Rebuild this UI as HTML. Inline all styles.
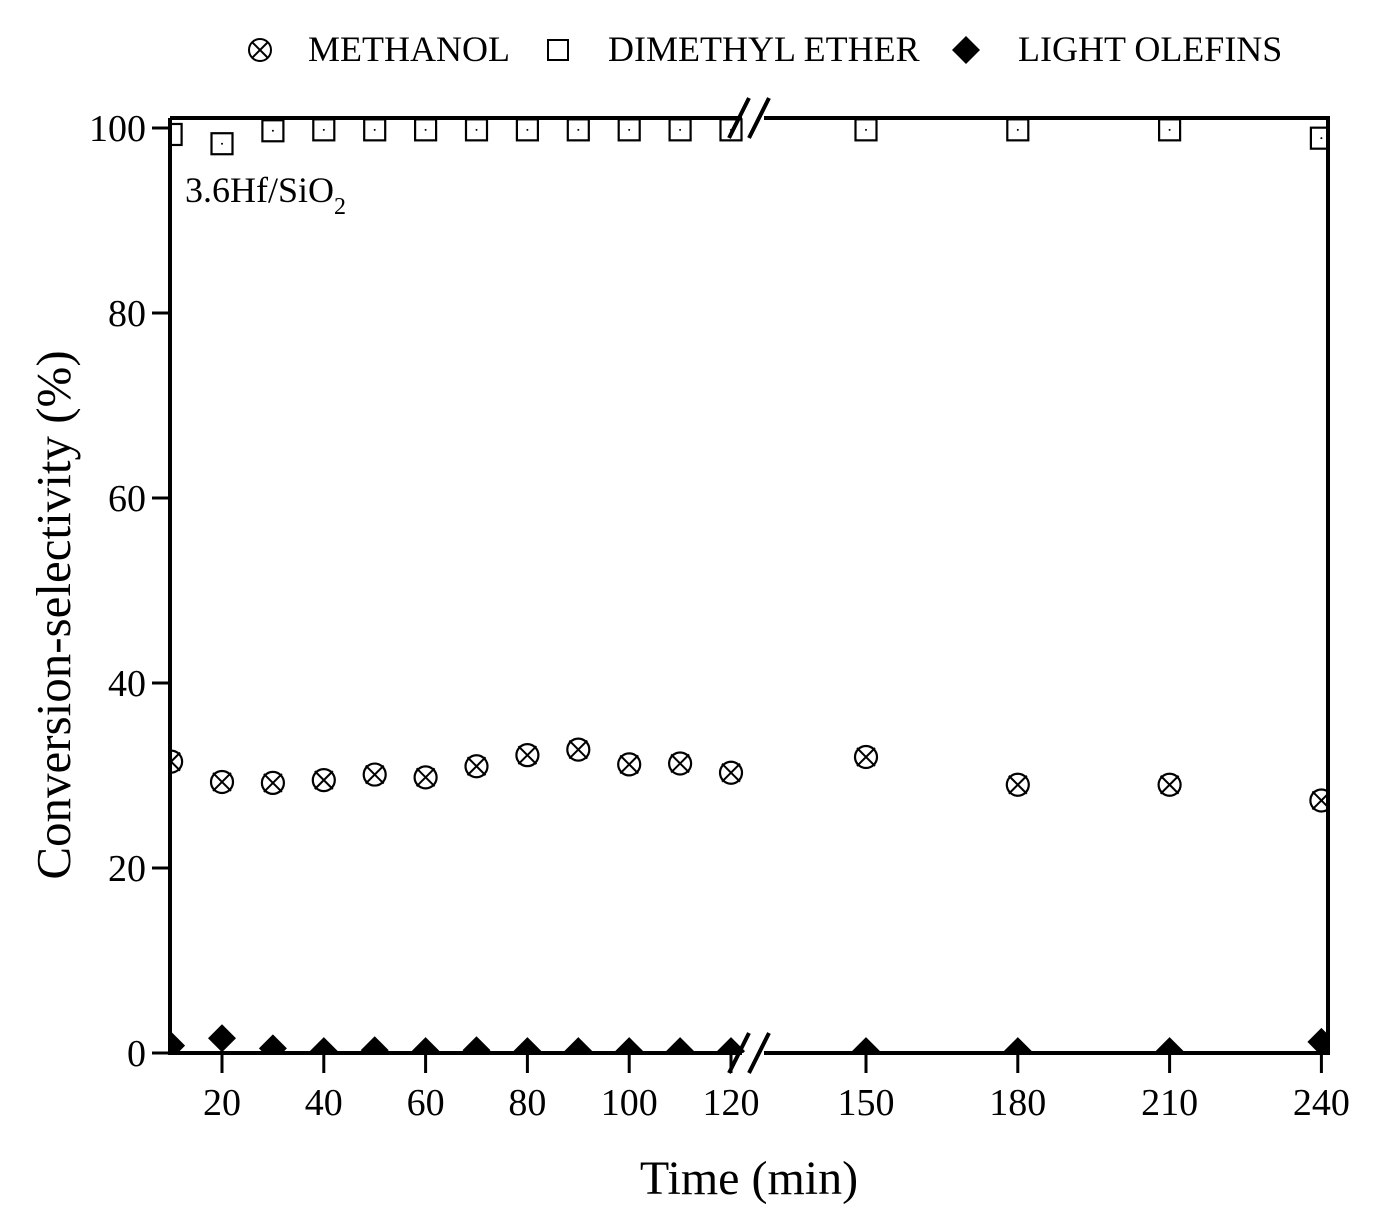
<!DOCTYPE html>
<html><head><meta charset="utf-8"><style>
body{margin:0;background:#fff}
svg{display:block;font-family:"Liberation Serif",serif}
</style></head><body>
<svg id="chart" width="1376" height="1215" viewBox="0 0 1376 1215">
<defs><clipPath id="clip"><rect x="170" y="118" width="1158" height="935"/></clipPath></defs>
<g id="legend" font-size="36">
 <g>
  <circle cx="260" cy="50" r="11" fill="none" stroke="#000" stroke-width="2"/>
  <path d="M252 42L268 58M268 42L252 58" stroke="#000" stroke-width="2"/>
  <text x="308" y="61">METHANOL</text></g>
 <g>
  <rect x="548" y="40" width="20" height="20" fill="none" stroke="#000" stroke-width="2"/>
  <text x="608" y="61">DIMETHYL ETHER</text></g>
 <g>
  <path d="M966 36L980 50L966 64L952 50Z" fill="#000"/>
  <text x="1018" y="61">LIGHT OLEFINS</text></g>
</g>
<text x="185" y="202" font-size="36">3.6Hf/SiO<tspan font-size="24" dy="12">2</tspan></text>
<g id="axes"></g>
<g id="marks" clip-path="url(#clip)"></g>
<text transform="translate(70,615) rotate(-90)" text-anchor="middle" font-size="49">Conversion-selectivity (%)</text>
<text x="749" y="1194" text-anchor="middle" font-size="48">Time (min)</text>
</svg>
<script>
const times=[10,20,30,40,50,60,70,80,90,100,110,120,150,180,210,240];
const methanol=[31.5,29.3,29.2,29.5,30.1,29.8,31,32.2,32.8,31.2,31.3,30.3,32,29,29,27.3];
const dme=[99.3,98.3,99.7,99.8,99.8,99.8,99.8,99.8,99.8,99.8,99.8,99.8,99.8,99.8,99.8,98.9];
const olefins=[0.8,1.6,0.5,0.2,0.3,0.2,0.3,0.2,0.2,0.2,0.2,0.2,0.2,0.2,0.2,1.2];
const xTicks=[20,40,60,80,100,120,150,180,210,240];
const yTicks=[0,20,40,60,80,100];
const NS='http://www.w3.org/2000/svg';
function X(t){return t<=130?222+(t-20)*5.09:866+(t-150)*5.06;}
function Y(v){return 1053-v*9.25;}
function mk(tag,at,parent){const e=document.createElementNS(NS,tag);for(const k in at)e.setAttribute(k,at[k]);parent.appendChild(e);return e;}
const ax=document.getElementById('axes'),mg=document.getElementById('marks');
let f=mk('path',{d:'M170 118V1053H1328V118H170',fill:'none',stroke:'#000','stroke-width':4},ax);


yTicks.forEach(v=>{const y=Y(v);
 const l=mk('line',{x1:152,y1:y,x2:170,y2:y,stroke:'#000','stroke-width':3},ax);
 
 
 const t=mk('text',{x:146,y:y+13,'text-anchor':'end','font-size':38},ax);t.textContent=v;
 
 });
xTicks.forEach(v=>{const x=X(v);
 const l=mk('line',{x1:x,y1:1053,x2:x,y2:1073,stroke:'#000','stroke-width':3},ax);
 
 
 const t=mk('text',{x:x,y:1115,'text-anchor':'middle','font-size':38},ax);t.textContent=v;
 
 });
[118,1053].forEach(y=>{
 const w=mk('rect',{x:742,y:y-3,width:22,height:6,fill:'#fff'},ax);
 
 
 const b=mk('path',{d:`M729 ${y+20}L749 ${y-20}M749 ${y+20}L769 ${y-20}`,stroke:'#000','stroke-width':4,fill:'none'},ax);
 
 });
times.forEach((t,i)=>{const x=X(t);
 let y=Y(methanol[i]);
 const g=mk('g',{},mg);
 
 
 mk('circle',{cx:x,cy:y,r:11,fill:'none',stroke:'#000','stroke-width':2.2},g);
 mk('path',{d:`M${x-9} ${y-9}L${x+9} ${y+9}M${x+9} ${y-9}L${x-9} ${y+9}`,stroke:'#000','stroke-width':2},g);
 y=Y(dme[i]);
 const s=mk('rect',{x:x-10.5,y:y-10.5,width:21,height:21,fill:'none',stroke:'#000','stroke-width':2.2},mg);
 
 
 mk('circle',{cx:x,cy:y,r:1,fill:'#000'},mg);
 y=Y(olefins[i]);
 const d=mk('path',{d:`M${x} ${y-14}L${x+14} ${y}L${x} ${y+14}L${x-14} ${y}Z`,fill:'#000'},mg);
 
 
});
</script>
</body></html>
